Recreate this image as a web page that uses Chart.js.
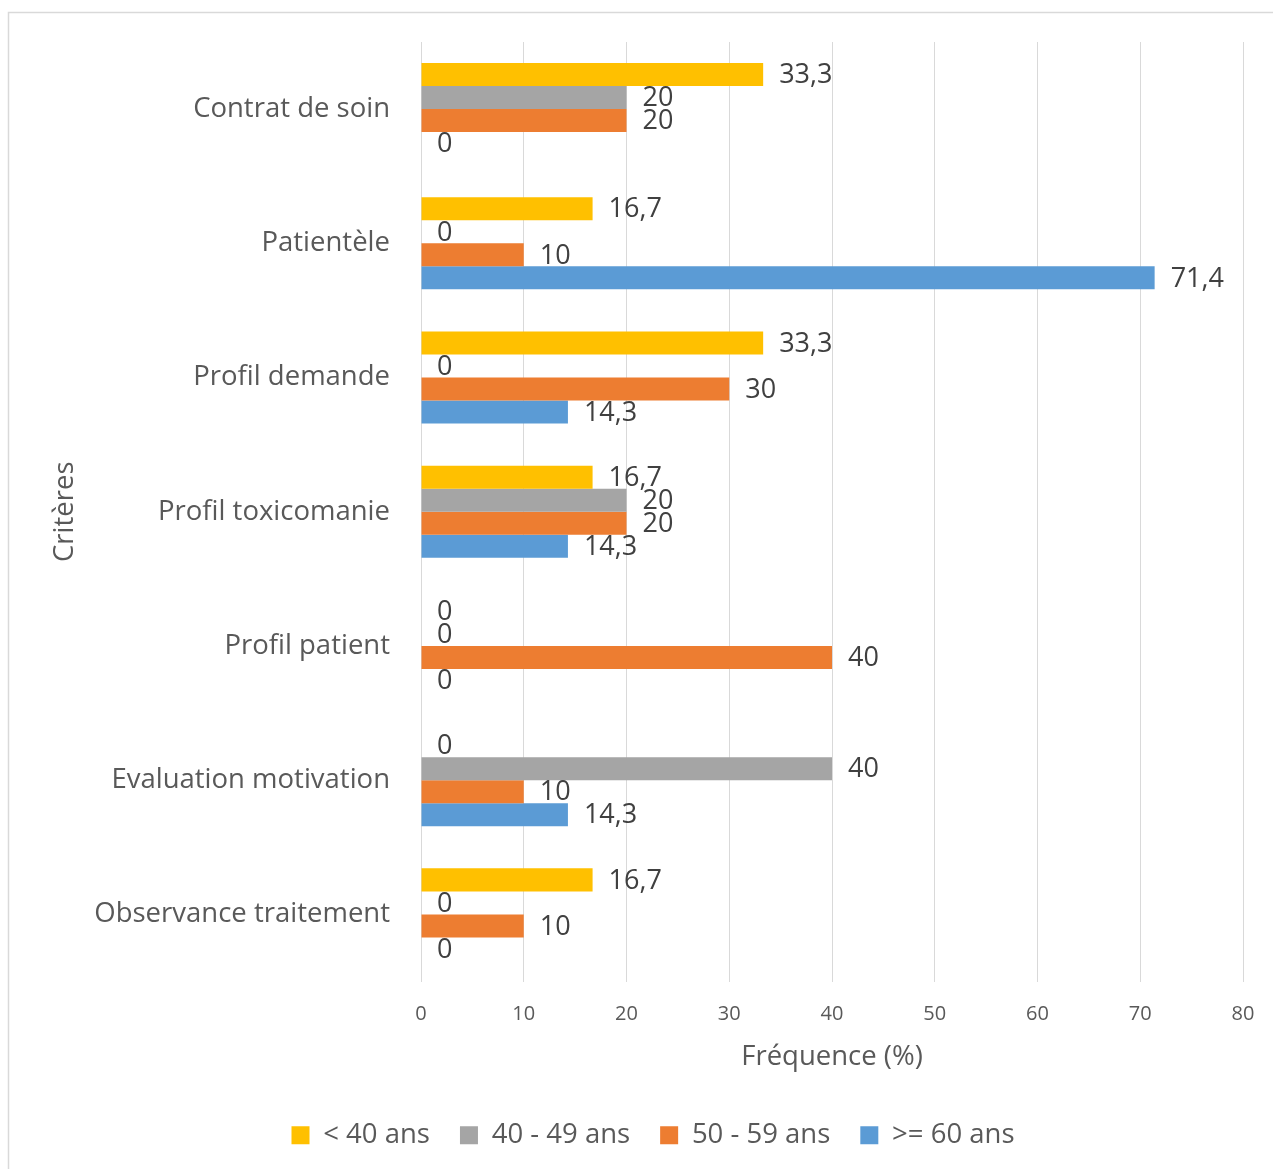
<!DOCTYPE html>
<html>
<head>
<meta charset="utf-8">
<script src="https://cdn.jsdelivr.net/npm/chart.js@4/dist/chart.umd.min.js"></script>
<style>
html,body{margin:0;padding:0;background:#fff;}
#wrap{width:1273px;height:1169px;position:relative;}
</style>
</head>
<body>
<div id="wrap"><canvas id="c" width="1273" height="1169"></canvas></div>
<script>
const categories = ["Contrat de soin","Patientèle","Profil demande","Profil toxicomanie","Profil patient","Evaluation motivation","Observance traitement"];
const seriesNames = ["< 40 ans","40 - 49 ans","50 - 59 ans",">= 60 ans"];
const under40 = [33.3,16.7,33.3,16.7,0,0,16.7];
const from40to49 = [20,0,0,20,0,40,0];
const from50to59 = [20,10,30,20,40,10,10];
const over60 = [0,71.4,14.3,14.3,0,14.3,0];
const xTicks = [0,10,20,30,40,50,60,70,80];
const colors = ["#FFC000","#A5A5A5","#ED7D31","#5B9BD5"];

const FONT = "'Open Sans', sans-serif";

const borderPlugin = {
  id:'borderBox',
  beforeDraw(chart){
    const ctx = chart.ctx;
    ctx.save();
    ctx.fillStyle='#fff';
    ctx.fillRect(0,0,chart.width,chart.height);
    ctx.strokeStyle='#d9d9d9';
    ctx.lineWidth=1.5;
    ctx.strokeRect(8.5,12.5,chart.width+20,chart.height+20);
    ctx.restore();
  }
};
const labelPlugin = {
  id:'valueLabels',
  afterDatasetsDraw(chart){
    const ctx = chart.ctx;
    ctx.save();
    ctx.font = "27px " + FONT;
    ctx.fillStyle = '#404040';
    ctx.textAlign='left';
    ctx.textBaseline='middle';
    chart.data.datasets.forEach((ds,i)=>{
      const meta = chart.getDatasetMeta(i);
      meta.data.forEach((bar,j)=>{
        const v = ds.data[j];
        ctx.fillText(String(v).replace('.',','), bar.x + 16, bar.y + 1);
      });
    });
    ctx.restore();
  }
};

const datasets = [under40,from40to49,from50to59,over60].map((d,i)=>({
  label: seriesNames[i],
  data: d,
  backgroundColor: colors[i],
  borderWidth: 0,
  barPercentage: 1.0,
  categoryPercentage: 0.686
}));

new Chart(document.getElementById('c'),{
  type:'bar',
  data:{labels:categories, datasets},
  plugins:[borderPlugin,labelPlugin],
  options:{
    indexAxis:'y',
    responsive:false,
    animation:false,
    layout:{padding:{left:63,right:30,top:42,bottom:10}},
    plugins:{
      legend:{
        position:'bottom',
        labels:{
          font:{family:FONT,size:27.5},
          color:'#595959',
          boxWidth:18,
          boxHeight:18,
          padding:30
        }
      },
      tooltip:{enabled:false}
    },
    scales:{
      x:{
        min:0,max:80,
        afterBuildTicks(scale){ scale.ticks = xTicks.map(v=>({value:v})); },
        grid:{color:'#d9d9d9',lineWidth:1,drawTicks:false},
        border:{display:false},
        ticks:{font:{family:FONT,size:20},color:'#595959',padding:21},
        title:{display:true,text:'Fréquence (%)',font:{family:FONT,size:27.5},color:'#595959',padding:{top:0,bottom:18}},
        afterFit(scale){ scale.height = 110; scale.paddingTop = 0; scale.paddingBottom = 0; scale.paddingRight = 0; }
      },
      y:{
        grid:{display:false,drawTicks:false},
        border:{display:false},
        ticks:{font:{family:FONT,size:27.5},color:'#595959',padding:31},
        title:{display:true,text:'Critères',font:{family:FONT,size:27.5},color:'#595959',padding:{top:-14,bottom:0}},
        afterFit(scale){ scale.width = 421-63; scale.paddingTop = 0; scale.paddingBottom = 0; }
      }
    }
  }
});
</script>
</body>
</html>
